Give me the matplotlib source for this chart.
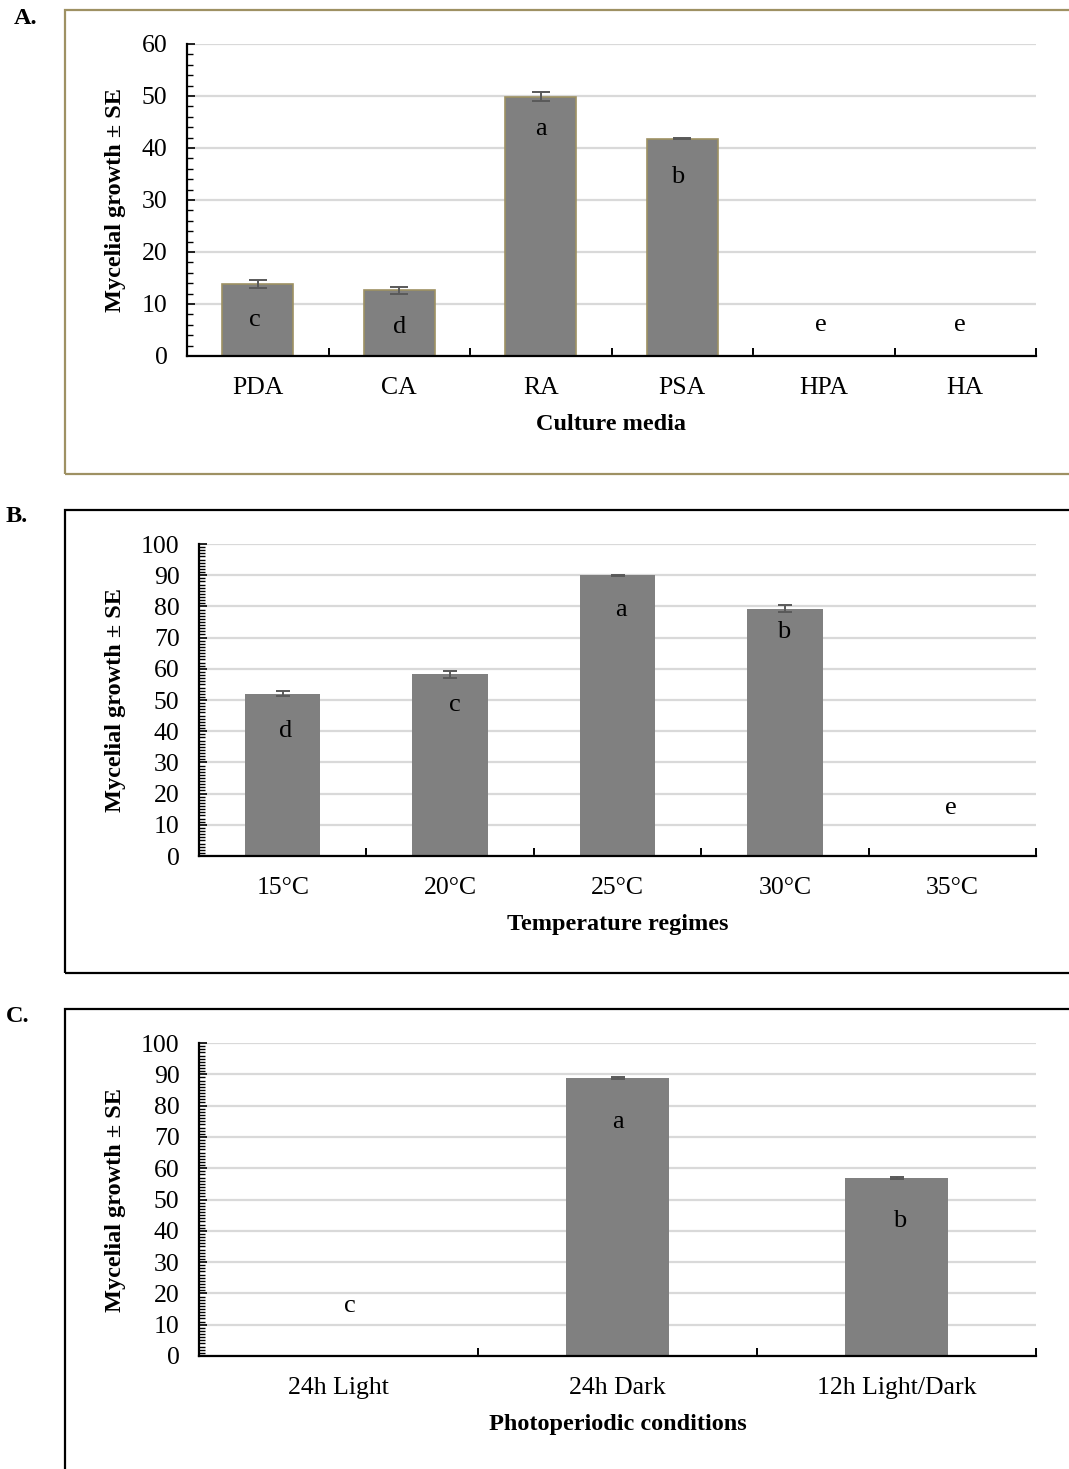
import matplotlib
matplotlib.use("Agg")
import matplotlib.pyplot as plt
from matplotlib.patches import Rectangle
from matplotlib.ticker import MultipleLocator, FixedLocator
import numpy as np

plt.rcParams['font.family'] = ['Liberation Serif', 'DejaVu Serif']

# ---------------- data ----------------
media = ["PDA", "CA", "RA", "PSA", "HPA", "HA"]
media_growth = [13.9, 12.6, 49.9, 41.8, 0, 0]
media_se = [0.8, 0.6, 0.8, 0.15, 0, 0]
media_letters = ["c", "d", "a", "b", "e", "e"]
media_letter_y = [7.0, 5.5, 43.6, 34.4, 6.0, 6.0]

temps = ["15°C", "20°C", "25°C", "30°C", "35°C"]
temp_growth = [52.0, 58.2, 90.0, 79.3, 0]
temp_se = [0.8, 1.1, 0.15, 1.2, 0]
temp_letters = ["d", "c", "a", "b", "e"]
temp_letter_y = [40.0, 48.4, 78.8, 71.8, 15.4]

photo = ["24h Light", "24h Dark", "12h Light/Dark"]
photo_growth = [0, 88.8, 56.9]
photo_se = [0, 0.3, 0.3]
photo_letters = ["c", "a", "b"]
photo_letter_y = [16.0, 74.8, 43.0]

# ---------------- figure ----------------
W, H = 1069, 1469
fig = plt.figure(figsize=(W / 100, H / 100), dpi=100)
fig.patch.set_facecolor("white")

def px_rect(x0, y0, x1, y1):
    """convert pixel box (top-left origin) to figure fraction"""
    return [x0 / W, 1 - y1 / H, (x1 - x0) / W, (y1 - y0) / H]

def frame(x0, y0, x1, y1, color):
    l, b, w, h = px_rect(x0, y0, x1, y1)
    fig.patches.append(Rectangle((l, b), w, h, transform=fig.transFigure,
                                 fill=False, edgecolor=color, linewidth=1.6,
                                 zorder=0))

olive = "#9e9163"
frame(65, 10, 1075, 474, olive)
frame(65, 510, 1075, 973, "black")
frame(65, 1009, 1075, 1490, "black")

fig.text(14 / W, 1 - 18 / H, "A.", fontsize=17.5, fontweight="bold", va="center", ha="left")
fig.text(6 / W, 1 - 517 / H, "B.", fontsize=17.5, fontweight="bold", va="center", ha="left")
fig.text(6 / W, 1 - 1017 / H, "C.", fontsize=17.5, fontweight="bold", va="center", ha="left")

TICK_FS = 18.5
LBL_FS = 18.5
XLAB_FS = 17.5

def panel(box, cats, vals, errs, letters, letter_y, ymax, minor, width,
          xlabel, edge=None, letter_dx=None, capsize=5):
    ax = fig.add_axes(px_rect(*box))
    x = np.arange(len(cats))
    ax.bar(x, vals, width=width, color="#808080",
           edgecolor=edge if edge else "#808080", linewidth=1.2 if edge else 0,
           zorder=3)
    ax.errorbar(x, vals, yerr=errs, fmt="none", ecolor="#595959",
                elinewidth=1.4, capsize=capsize, capthick=1.4, zorder=4)
    for i, (t, ly) in enumerate(zip(letters, letter_y)):
        dx = letter_dx[i] if letter_dx else 0
        ax.text(x[i] + dx, ly, t, ha="center", va="center", fontsize=TICK_FS + 0.5,
                zorder=5)
    ax.set_xlim(-0.5, len(cats) - 0.5)
    ax.set_ylim(0, ymax)
    ax.yaxis.set_major_locator(MultipleLocator(10))
    ax.yaxis.set_minor_locator(MultipleLocator(minor))
    ax.grid(axis="y", which="major", color="#d9d9d9", linewidth=1.6, zorder=0)
    ax.set_axisbelow(True)
    for s in ["top", "right"]:
        ax.spines[s].set_visible(False)
    for s in ["left", "bottom"]:
        ax.spines[s].set_linewidth(1.6)
        ax.spines[s].set_zorder(6)
    ax.tick_params(axis="y", which="major", direction="in", length=6,
                   width=1.2, labelsize=TICK_FS, pad=14)
    ax.tick_params(axis="y", which="minor", direction="in", length=4,
                   width=1.0)
    ax.set_xticks(x)
    ax.set_xticklabels(cats)
    ax.xaxis.set_minor_locator(FixedLocator(np.arange(0.5, len(cats), 1.0)))
    ax.tick_params(axis="x", which="major", length=0, labelsize=LBL_FS, pad=15)
    ax.tick_params(axis="x", which="minor", direction="in", length=6,
                   width=1.4)
    ax.set_xlabel(xlabel, fontsize=XLAB_FS, fontweight="bold", labelpad=11)
    ax.set_ylabel("Mycelial growth ± SE", fontsize=17.5, fontweight="bold")
    return ax

axA = panel((187, 44, 1036, 356), media, media_growth, media_se,
            media_letters, media_letter_y, 60, 2, 0.5, "Culture media",
            edge=olive, letter_dx=[-0.02, 0.0, 0.0, -0.03, -0.02, -0.04],
            capsize=6.5)
axA.yaxis.set_label_coords(-0.072, 0.5)

axB = panel((199, 544, 1036, 856), temps, temp_growth, temp_se,
            temp_letters, temp_letter_y, 100, 1, 0.45, "Temperature regimes",
            letter_dx=[0.02, 0.03, 0.02, -0.01, -0.01])
axB.yaxis.set_label_coords(-0.087, 0.5)

axC = panel((199, 1043, 1036, 1356), photo, photo_growth, photo_se,
            photo_letters, photo_letter_y, 100, 1, 0.37,
            "Photoperiodic conditions",
            letter_dx=[0.04, 0.0, 0.01])
axC.yaxis.set_label_coords(-0.087, 0.5)

fig.savefig("out.png", dpi=100, facecolor="white")
